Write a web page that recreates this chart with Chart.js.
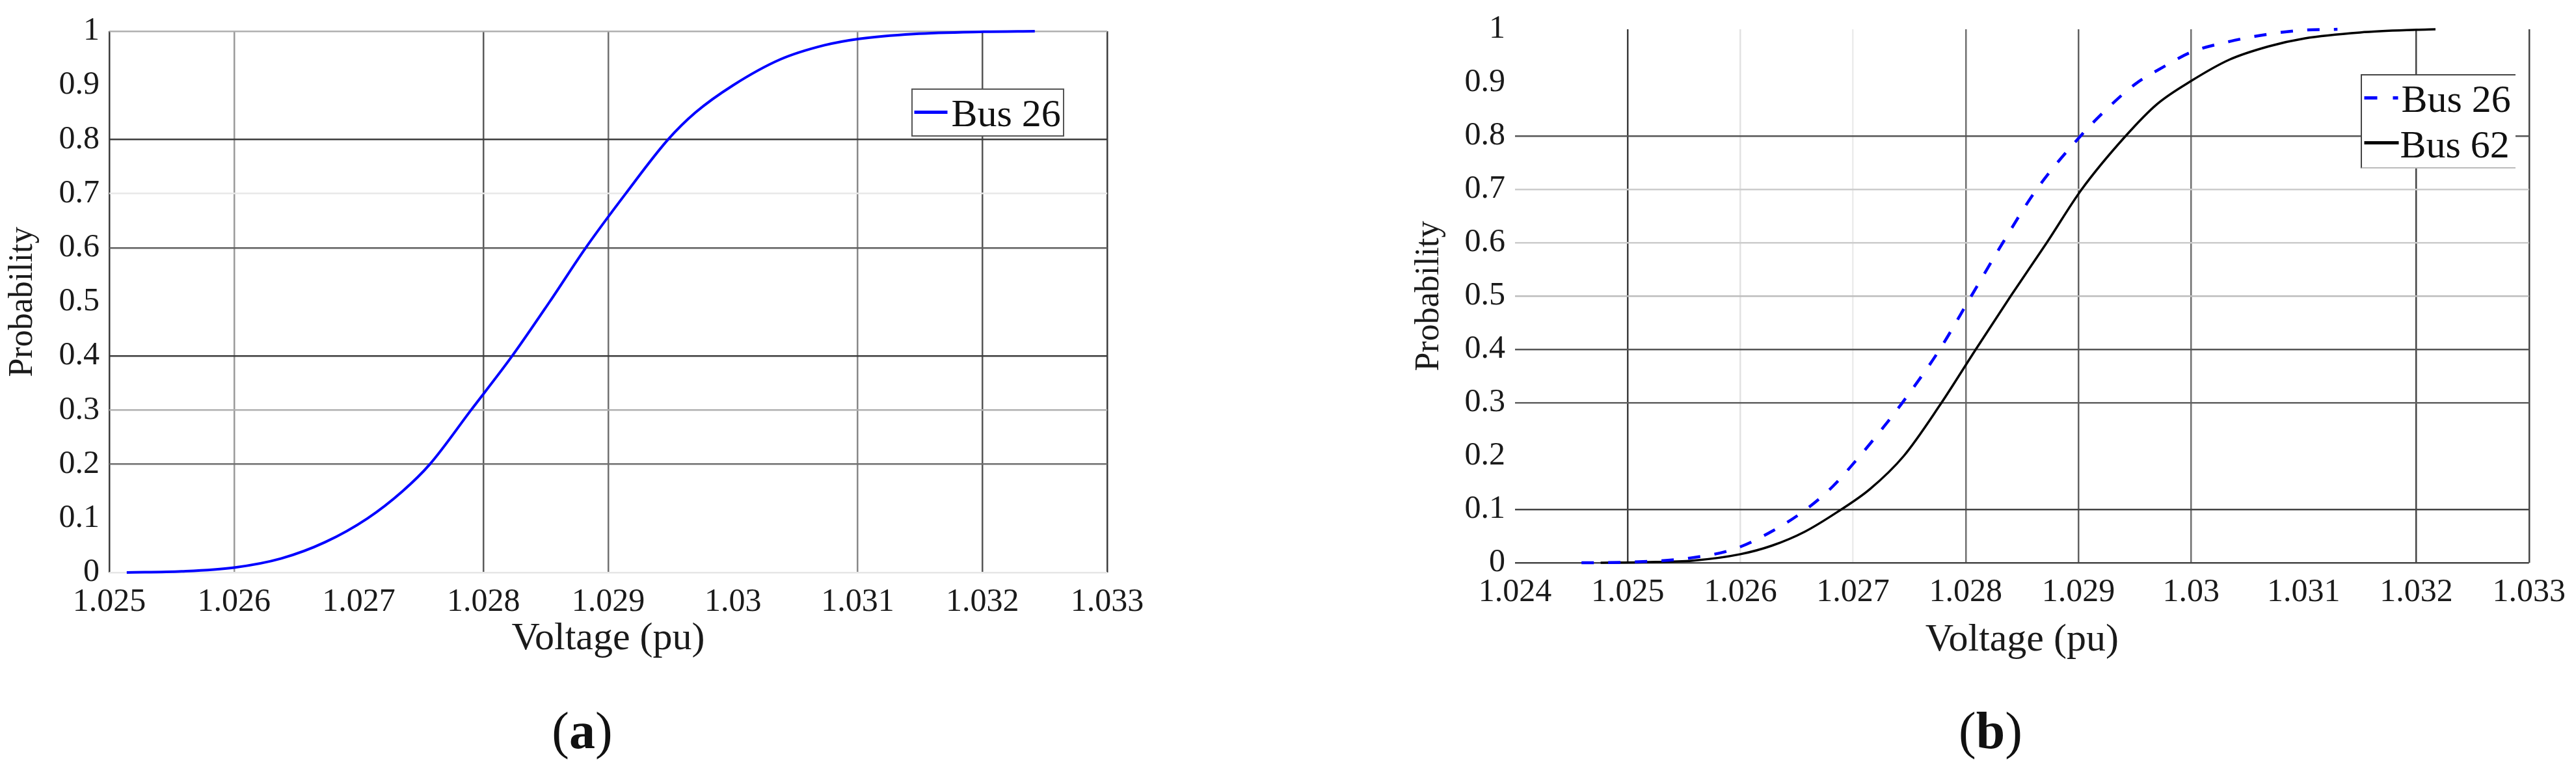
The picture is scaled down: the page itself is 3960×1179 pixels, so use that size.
<!DOCTYPE html>
<html>
<head>
<meta charset="utf-8">
<title>Voltage CDF - Bus 26 / Bus 62</title>
<script src="https://cdn.jsdelivr.net/npm/chart.js@4.4.1/dist/chart.umd.min.js"></script>
<style>
  body { margin: 0; background: #fff; }
  #page { position: relative; width: 3960px; height: 1179px; overflow: hidden; background: #fff;
          font-family: 'Liberation Serif', 'Times New Roman', serif; color: #111; }
  canvas { position: absolute; top: 0; }
  #chartA { left: 0; }
  #chartB { left: 1980px; }
  .legend { position: absolute; box-sizing: border-box; background: #fff; }
  .legend svg { position: absolute; left: 0; top: 0; overflow: visible; }
  .legend span { position: absolute; font-size: 60px; line-height: 60px; white-space: nowrap; }
  .caption { position: absolute; font-size: 80px; line-height: 80px; transform: translateX(-50%); white-space: nowrap; }
</style>
</head>
<body>
<div id="page">
  <canvas id="chartA" width="1980" height="1179"></canvas>
  <canvas id="chartB" width="1980" height="1179"></canvas>

  <div class="legend" style="left:1401px; top:136px; width:235px; height:74px; border:2.5px solid #555;">
    <svg width="232" height="70"><line x1="2.5" y1="34.5" x2="53.5" y2="34.5" stroke="#0000ff" stroke-width="5"/></svg>
    <span style="left:59.5px; top:6.25px;">Bus 26</span>
  </div>

  <div class="legend" style="left:3629px; top:114px; width:238px; height:145px; border-top:2.5px solid #444; border-left:2.5px solid #444; border-bottom:2.5px solid #bbb;">
    <svg width="236" height="140">
      <line x1="3.5" y1="34.5" x2="55.5" y2="34.5" stroke="#0000ff" stroke-width="5" stroke-dasharray="20 24"/>
      <line x1="3.5" y1="103.5" x2="56.5" y2="103.5" stroke="#000" stroke-width="5"/>
    </svg>
    <span style="left:60.5px; top:6.25px;">Bus 26</span>
    <span style="left:58.5px; top:76.25px;">Bus 62</span>
  </div>

  <div class="caption" style="left:895px; top:1083px;">(<b>a</b>)</div>
  <div class="caption" style="left:3060px; top:1083px;">(<b>b</b>)</div>
</div>

<script>
// tick positions
const xTicksA = [1.025, 1.026, 1.027, 1.028, 1.029, 1.03, 1.031, 1.032, 1.033];
const xTicksB = [1.024, 1.025, 1.026, 1.027, 1.028, 1.029, 1.03, 1.031, 1.032, 1.033];
const yTicks = [0, 0.1, 0.2, 0.3, 0.4, 0.5, 0.6, 0.7, 0.8, 0.9, 1];

// panel (a): Bus 26
const busA26Voltage = [1.02514, 1.02558, 1.02600, 1.02638, 1.02673, 1.02707, 1.02735, 1.02757, 1.02790,
  1.02823, 1.02853, 1.02882, 1.02914, 1.02948, 1.02970, 1.03000, 1.03038, 1.03073, 1.03101, 1.03145,
  1.03201, 1.03242];
const busA26Prob = [0, 0.002, 0.009, 0.026, 0.056, 0.100, 0.150, 0.200, 0.300,
  0.400, 0.500, 0.600, 0.700, 0.800, 0.850, 0.900, 0.948, 0.974, 0.986, 0.995,
  0.999, 1.000];

// panel (b): Bus 26 (dashed)
const busB26Voltage = [1.02459, 1.02500, 1.02556, 1.02595, 1.02629, 1.02657, 1.02682, 1.02706, 1.02727,
  1.02748, 1.02777, 1.02805, 1.02833, 1.02863, 1.02902, 1.02924, 1.02951, 1.02976, 1.03000, 1.03034,
  1.03069, 1.03098, 1.03130];
const busB26Prob = [0, 0.001, 0.009, 0.026, 0.060, 0.098, 0.143, 0.200, 0.254,
  0.312, 0.400, 0.500, 0.600, 0.700, 0.800, 0.848, 0.898, 0.930, 0.957, 0.977,
  0.991, 0.998, 1.000];

// panel (b): Bus 62
const busB62Voltage = [1.02476, 1.02514, 1.02558, 1.02600, 1.02628, 1.02657, 1.02686, 1.02715, 1.02745,
  1.02777, 1.02809, 1.02840, 1.02872, 1.02903, 1.02942, 1.02970, 1.03000, 1.03034, 1.03069, 1.03101,
  1.03150, 1.03200, 1.03217];
const busB62Prob = [0, 0.001, 0.004, 0.016, 0.032, 0.058, 0.095, 0.138, 0.200,
  0.295, 0.400, 0.500, 0.600, 0.700, 0.800, 0.860, 0.903, 0.943, 0.968, 0.983,
  0.994, 0.999, 1.000];

// grid line shades, one per tick (the exported figure has uneven grid lines)
const gridXA = ['#3c3c3c', '#999999', 'transparent', '#5a5a5a', '#707070', 'transparent', '#888888', '#555555', '#3c3c3c'];
const gridYA = ['#e6e6e6', 'transparent', '#707070', '#b0b0b0', '#3c3c3c', 'transparent', '#606060', '#e8e8e8', '#3c3c3c', 'transparent', '#b0b0b0'];
const gridXB = ['transparent', '#3c3c3c', '#e2e2e2', '#ececec', '#707070', '#606060', '#707070', 'transparent', '#444444', '#444444'];
const gridYB = ['#444444', '#444444', 'transparent', '#606060', '#555555', '#bdbdbd', '#cccccc', '#cccccc', '#555555', 'transparent', 'transparent'];

Chart.defaults.font.family = "'Liberation Serif', 'Times New Roman', serif";
Chart.defaults.color = '#1a1a1a';

function toPoints(xs, ys) {
  return xs.map((x, i) => ({ x: x, y: ys[i] }));
}

function voltageAxis(ticks, gridColors, height, titlePad) {
  return {
    type: 'linear',
    min: ticks[0],
    max: ticks[ticks.length - 1],
    afterBuildTicks: s => { s.ticks = ticks.map(v => ({ value: v })); },
    afterFit: s => { s.height = height; },
    ticks: {
      callback: v => String(parseFloat(v.toFixed(3))),
      font: { size: 50 },
      padding: 16,
      maxRotation: 0,
      autoSkip: false
    },
    grid: { color: c => gridColors[c.index], lineWidth: 2.5, drawTicks: false },
    border: { display: false },
    title: {
      display: true,
      text: 'Voltage (pu)',
      font: { size: 60, lineHeight: 1 },
      padding: { top: 0, bottom: titlePad }
    }
  };
}

function probAxis(gridColors, width, titlePad) {
  return {
    type: 'linear',
    min: 0,
    max: 1,
    afterBuildTicks: s => { s.ticks = yTicks.map(v => ({ value: v })); },
    afterFit: s => { s.width = width; },
    ticks: {
      callback: v => String(parseFloat(v.toFixed(1))),
      font: { size: 50 },
      padding: 15,
      autoSkip: false
    },
    grid: { color: c => gridColors[c.index], lineWidth: 2.5, drawTicks: false },
    border: { display: false },
    title: {
      display: true,
      text: 'Probability',
      font: { size: 52, lineHeight: 1 },
      padding: { top: titlePad, bottom: 0 }
    }
  };
}

const commonPlugins = { legend: { display: false }, tooltip: { enabled: false } };

const chartA = new Chart(document.getElementById('chartA'), {
  type: 'line',
  data: {
    datasets: [{
      label: 'Bus 26',
      data: toPoints(busA26Voltage, busA26Prob),
      borderColor: '#0000ff',
      borderWidth: 4,
      pointRadius: 0,
      cubicInterpolationMode: 'monotone',
      clip: 8
    }]
  },
  options: {
    responsive: false,
    animation: false,
    devicePixelRatio: 1,
    layout: { padding: { left: 0, top: 48, right: 278, bottom: 149 } },
    plugins: commonPlugins,
    scales: {
      x: voltageAxis(xTicksA, gridXA, 150, 18),
      y: probAxis(gridYA, 168, 9)
    }
  }
});

const chartB = new Chart(document.getElementById('chartB'), {
  type: 'line',
  data: {
    datasets: [{
      label: 'Bus 26',
      data: toPoints(busB26Voltage, busB26Prob),
      borderColor: '#0000ff',
      borderWidth: 4.5,
      borderDash: [19, 22],
      pointRadius: 0,
      cubicInterpolationMode: 'monotone',
      clip: 8
    }, {
      label: 'Bus 62',
      data: toPoints(busB62Voltage, busB62Prob),
      borderColor: '#000000',
      borderWidth: 3.5,
      pointRadius: 0,
      cubicInterpolationMode: 'monotone',
      clip: 8
    }]
  },
  options: {
    responsive: false,
    animation: false,
    devicePixelRatio: 1,
    layout: { padding: { left: 0, top: 41, right: 69, bottom: 164 } },
    plugins: commonPlugins,
    scales: {
      x: voltageAxis(xTicksB, gridXB, 150, 1),
      y: probAxis(gridYB, 349, 191)
    }
  }
});
</script>
</body>
</html>
